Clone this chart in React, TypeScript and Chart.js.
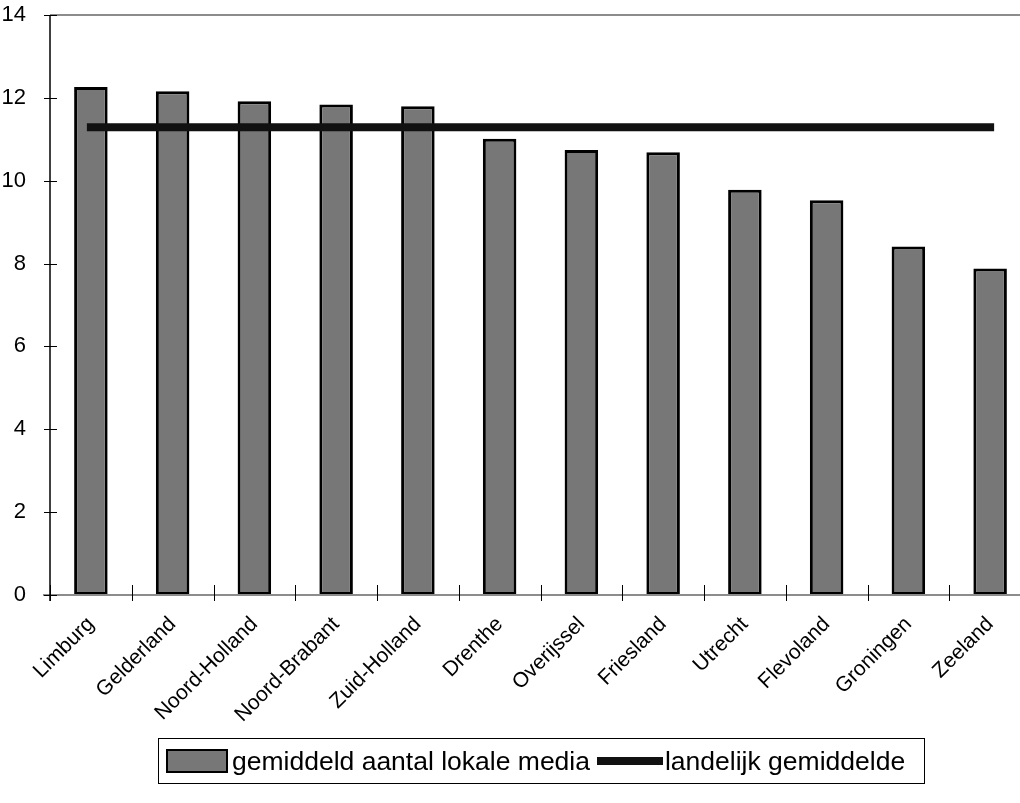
import React, { useEffect, useRef } from "react";
import { Chart, registerables } from "chart.js";

Chart.register(...registerables);

const categories = [
  "Limburg",
  "Gelderland",
  "Noord-Holland",
  "Noord-Brabant",
  "Zuid-Holland",
  "Drenthe",
  "Overijssel",
  "Friesland",
  "Utrecht",
  "Flevoland",
  "Groningen",
  "Zeeland",
];

const mediaValues = [12.26, 12.16, 11.92, 11.84, 11.8, 11.01, 10.74, 10.69, 9.78, 9.53, 8.41, 7.88];
const nationalAverage = 11.29;
const averageValues = categories.map(() => nationalAverage);

const seriesLabels = ["gemiddeld aantal lokale media", "landelijk gemiddelde"];
const yTicks = [0, 2, 4, 6, 8, 10, 12, 14];

const FONT = "'Liberation Sans', Arial, sans-serif";

const axisPlugin = {
  id: "excelAxes",
  afterDatasetsDraw(chart: any) {
    const { ctx, chartArea, scales } = chart;
    const x = scales.x;
    const y = scales.y;
    ctx.save();
    ctx.strokeStyle = "#8c8c8c";
    ctx.lineWidth = 2;
    ctx.beginPath();
    ctx.moveTo(chartArea.left, chartArea.top);
    ctx.lineTo(chartArea.right, chartArea.top);
    ctx.stroke();
    ctx.beginPath();
    ctx.moveTo(chartArea.left - 7, chartArea.bottom);
    ctx.lineTo(chartArea.right, chartArea.bottom);
    ctx.stroke();
    ctx.strokeStyle = "#000";
    ctx.lineWidth = 1.5;
    ctx.beginPath();
    ctx.moveTo(chartArea.left, chartArea.top);
    ctx.lineTo(chartArea.left, chartArea.bottom + 6);
    ctx.stroke();
    ctx.lineWidth = 1;
    yTicks.forEach((v) => {
      const py = Math.round(y.getPixelForValue(v)) + 0.5;
      ctx.beginPath();
      ctx.moveTo(chartArea.left - 6, py);
      ctx.lineTo(chartArea.left + 7, py);
      ctx.stroke();
    });
    for (let i = 0; i <= categories.length; i++) {
      const px = Math.round(x.getPixelForValue(i - 0.5)) + 0.5;
      ctx.beginPath();
      ctx.moveTo(px, chartArea.bottom - 10);
      ctx.lineTo(px, chartArea.bottom + 6);
      ctx.stroke();
    }
    ctx.restore();
  },
};

export default function App() {
  const canvasRef = useRef<HTMLCanvasElement | null>(null);

  useEffect(() => {
    document.body.style.margin = "0";
    const canvas = canvasRef.current;
    if (!canvas) return;
    const chart = new Chart(canvas, {
      type: "bar",
      data: {
        labels: categories,
        datasets: [
          {
            type: "line",
            label: seriesLabels[1],
            data: averageValues,
            borderColor: "#111111",
            backgroundColor: "#111111",
            borderWidth: 8,
            borderCapStyle: "square",
            pointRadius: 0,
            order: 0,
          } as any,
          {
            type: "bar",
            label: seriesLabels[0],
            data: mediaValues,
            backgroundColor: "#777777",
            borderColor: "#000000",
            borderWidth: 3,
            borderSkipped: false,
            categoryPercentage: 1,
            barPercentage: 0.41,
            order: 1,
          } as any,
        ],
      },
      options: {
        responsive: false,
        animation: false,
        devicePixelRatio: 1,
        layout: { padding: { top: 15, right: 29, left: 0, bottom: 0 } },
        plugins: {
          legend: { display: false },
          tooltip: { enabled: false },
        },
        scales: {
          x: {
            offset: true,
            grid: { display: false },
            border: { display: false },
            ticks: {
              color: "#000",
              font: { family: FONT, size: 21 },
              maxRotation: 45,
              minRotation: 45,
              padding: 9,
              autoSkip: false,
            },
            afterFit(scale: any) {
              scale.height = 803 - 595;
              scale.paddingLeft = 0;
              scale.paddingRight = 0;
            },
          },
          y: {
            min: 0,
            max: 14,
            grid: { display: false },
            border: { display: false },
            afterBuildTicks(scale: any) {
              scale.ticks = yTicks.map((v) => ({ value: v }));
            },
            ticks: {
              color: "#000",
              font: { family: FONT, size: 22 },
              padding: 16,
            },
            afterFit(scale: any) {
              scale.width = 50;
              scale.paddingTop = 0;
              scale.paddingBottom = 0;
            },
          },
        },
      },
      plugins: [axisPlugin],
    });
    return () => chart.destroy();
  }, []);

  return (
    <div style={{ position: "relative", width: 1020, height: 803, overflow: "hidden", background: "#fff" }}>
      <canvas ref={canvasRef} width={1060} height={803} style={{ display: "block" }} />
      <div
        style={{
          position: "absolute",
          left: 158,
          top: 738,
          width: 767,
          height: 46,
          border: "1px solid #000",
          boxSizing: "border-box",
          display: "flex",
          alignItems: "center",
          fontFamily: FONT,
          fontSize: 26.5,
          color: "#000",
          whiteSpace: "nowrap",
          paddingLeft: 7,
        }}
      >
        <span
          style={{
            display: "inline-block",
            width: 62,
            height: 24,
            background: "#777777",
            border: "2px solid #000",
            boxSizing: "border-box",
            marginRight: 4,
          }}
        />
        <span>{seriesLabels[0]}</span>
        <span
          style={{
            display: "inline-block",
            width: 66,
            height: 8,
            background: "#111111",
            marginLeft: 7,
            marginRight: 2,
          }}
        />
        <span>{seriesLabels[1]}</span>
      </div>
    </div>
  );
}
